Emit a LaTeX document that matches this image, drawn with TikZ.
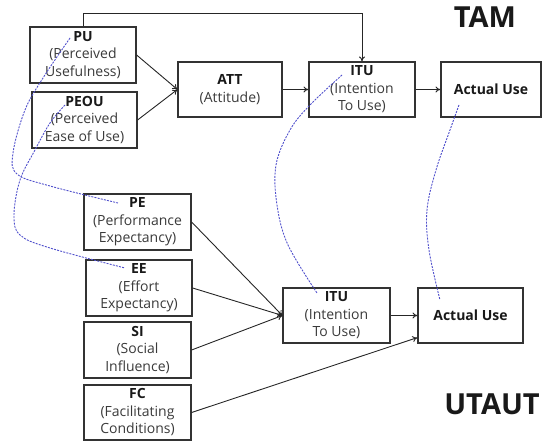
\documentclass[tikz,border=0pt]{standalone}
\usepackage{fontspec}
\setmainfont{Open Sans}
\usetikzlibrary{arrows.meta,calc}
\definecolor{boxline}{HTML}{333333}
\definecolor{txtgray}{HTML}{3A3A3A}
\definecolor{annot}{HTML}{5050CC}
\tikzset{
  mbox/.style={draw=boxline, line width=1.2pt, align=center, inner sep=0pt,
    font=\fontsize{14}{17.5}\selectfont, text=txtgray},
  link/.style={draw=black!85, line width=0.9pt, -{To[length=5pt,width=6pt]}},
  annotline/.style={draw=annot, line width=0.9pt, dash pattern=on 2pt off 1.2pt},
  title/.style={font=\fontsize{29}{30}\selectfont\bfseries, text=black!90}
}
\newcommand{\hd}[1]{\textbf{\textcolor{black!90}{#1}}}
\begin{document}
\begin{tikzpicture}[x=1pt,y=1pt]
\useasboundingbox (0,0) rectangle (542,441);
% TAM
\node[mbox, minimum width=106pt, minimum height=56pt] (PU) at (83,386) {\hd{PU}\\(Perceived\\Usefulness)};
\node[mbox, minimum width=105pt, minimum height=56pt] (PEOU) at (84.5,321) {\hd{PEOU}\\(Perceived\\Ease of Use)};
\node[mbox, minimum width=104pt, minimum height=55pt] (ATT) at (230,351.5) {\hd{ATT}\\(Attitude)};
\node[mbox, minimum width=106pt, minimum height=55pt] (ITU1) at (362,351.5) {\hd{ITU}\\(Intention\\To Use)};
\node[mbox, minimum width=100pt, minimum height=55pt] (AU1) at (491,351.5) {\hd{Actual Use}};
\node[title] (TAM) at (485,424) {TAM};
% UTAUT
\node[mbox, minimum width=107pt, minimum height=56pt] (PE) at (137.5,219) {\hd{PE}\\(Performance\\Expectancy)};
\node[mbox, minimum width=106pt, minimum height=56pt] (EE) at (139,153) {\hd{EE}\\(Effort\\Expectancy)};
\node[mbox, minimum width=107pt, minimum height=56pt] (SI) at (137.5,91) {\hd{SI}\\(Social\\Influence)};
\node[mbox, minimum width=107pt, minimum height=55pt] (FC) at (137.5,28.5) {\hd{FC}\\(Facilitating\\Conditions)};
\node[mbox, minimum width=107pt, minimum height=55pt] (ITU2) at (336.5,125.5) {\hd{ITU}\\(Intention\\To Use)};
\node[mbox, minimum width=105pt, minimum height=55pt] (AU2) at (470.5,125.5) {\hd{Actual Use}};
\node[title] (UTAUT) at (492,37) {UTAUT};
\coordinate (topy) at (0,428);
\coordinate (au2in) at ($(AU2.south west)+(0,6)$);
% TAM connectors
\draw[link] (PU.east) -- (ATT.west);
\draw[link] (PEOU.east) -- (ATT.west);
\draw[link] (ATT.east) -- (ITU1.west);
\draw[link] (ITU1.east) -- (AU1.west);
\draw[link] (PU.north) |- (ITU1.north |- topy) -- (ITU1.north);
% UTAUT connectors
\draw[link] (PE.east) -- (ITU2.west);
\draw[link] (EE.east) -- (ITU2.west);
\draw[link] (SI.east) -- (ITU2.west);
\draw[link] (ITU2.east) -- (AU2.west);
\draw[link] (FC.east) -- (au2in);
% annotation curves
\draw[annotline] plot[smooth, tension=0.6] coordinates {(70,403) (43,363) (25,331) (13,288) (17,267) (50,255) (118,238)};
\draw[annotline] plot[smooth, tension=0.6] coordinates {(65,336) (50,318) (35,291) (20,261) (14,226) (20,206) (50,193) (125,173)};
\draw[annotline] plot[smooth, tension=0.6] coordinates {(342,366) (310,336) (290,311) (276,276) (277,236) (288,196) (317,148)};
\draw[annotline] plot[smooth, tension=0.6] coordinates {(459,336) (450,311) (436,271) (427,231) (429,191) (440,141)};
\end{tikzpicture}
\end{document}
